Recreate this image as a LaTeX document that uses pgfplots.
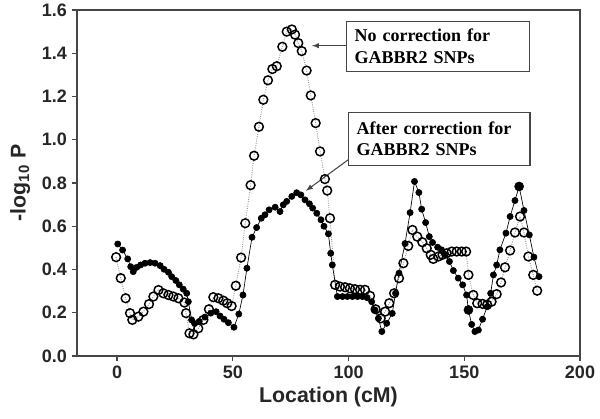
\documentclass[border=0pt]{standalone}
\usepackage{pgfplots}
\pgfplotsset{compat=1.18}
\usepackage{fontspec}
\setmainfont{Liberation Serif}
\setsansfont{Liberation Sans}
\definecolor{axgray}{RGB}{70,70,70}
\definecolor{dotgray}{RGB}{150,150,150}
\begin{document}
\begin{tikzpicture}
\path[use as bounding box] (-57.75pt,-46.5pt) rectangle (392.25pt,267pt);
\begin{axis}[
  scale only axis,
  width=377.25pt, height=259.5pt,
  at={(0,0)}, anchor=south west,
  xmin=-17.3, xmax=200,
  ymin=0, ymax=1.6,
  xtick={0,50,100,150,200},
  ytick={0,0.2,0.4,0.6,0.8,1.0,1.2,1.4,1.6},
  tick align=outside,
  tick pos=left,
  major tick length=4pt,
  axis line style={axgray, line width=1.1pt},
  every tick/.style={axgray, line width=1pt},
  /pgf/number format/assume math mode=true,
  yticklabel style={/pgf/number format/.cd, fixed, fixed zerofill, precision=1},
  ticklabel style={font=\sffamily\bfseries\fontsize{13.5}{14}\selectfont, text=black!85},
  xlabel={Location (cM)},
  ylabel={-log\textsubscript{10} P},
  label style={font=\sffamily\bfseries\fontsize{16}{18}\selectfont, text=black!85},
  xlabel style={anchor=center, at={(axis description cs:0.5,-0.118)}},
  ylabel style={anchor=center, rotate=0, at={(axis description cs:-0.113,0.5)}},
  clip=false,
]
% No correction (open circles, dotted)
\addplot[dotgray, densely dotted, line width=0.7pt, mark=o, mark size=3.3pt,
  mark options={solid, black, line width=1.1pt, fill=white}] coordinates {
(-0.4,0.457) (1.6,0.36) (3.7,0.267) (5.6,0.198) (6.6,0.167) (9.2,0.182)
(11.4,0.205) (13.8,0.24) (15.7,0.275) (17.9,0.305) (20.0,0.29) (22.2,0.282)
(24.3,0.275) (26.5,0.267) (29.1,0.247) (29.8,0.198) (31.3,0.105) (33.0,0.10)
(35.1,0.128) (37.3,0.167) (39.7,0.216) (41.6,0.272) (43.8,0.267) (45.9,0.256)
(47.6,0.244) (49.5,0.231) (51.3,0.325) (53.6,0.455) (55.4,0.614) (57.7,0.79)
(59.2,0.926) (61.3,1.06) (63.2,1.185) (65.2,1.275) (67.1,1.327) (69.0,1.34)
(71.4,1.43) (73.3,1.50) (75.5,1.51) (76.9,1.486) (78.3,1.447) (79.8,1.41)
(81.9,1.32) (83.7,1.205) (85.8,1.077) (87.7,0.946) (89.8,0.818) (90.8,0.765)
(92.0,0.637) (94.2,0.329) (96.3,0.321) (98.5,0.318) (100.6,0.313) (102.8,0.309)
(105.0,0.306) (107.1,0.306) (109.3,0.278) (111.7,0.216) (113.9,0.174) (115.8,0.205)
(117.6,0.244) (119.7,0.29) (121.8,0.36) (123.7,0.429) (125.8,0.509) (127.6,0.583)
(129.7,0.552) (131.9,0.526) (133.8,0.498) (135.5,0.468) (136.6,0.449) (138.8,0.46)
(140.6,0.468) (142.4,0.475) (144.6,0.483) (146.7,0.483) (148.9,0.483) (150.8,0.483)
(151.8,0.375) (153.9,0.282) (155.6,0.244) (157.9,0.241) (159.9,0.237) (161.8,0.251)
(164.0,0.286) (165.9,0.34) (167.6,0.41) (169.8,0.488) (171.9,0.571) (174.1,0.645)
(175.8,0.571) (177.7,0.46) (179.8,0.375) (181.5,0.302)
};
% After correction (filled circles, solid)
\addplot[black, line width=0.5pt, mark=*, mark size=2.3pt,
  mark options={solid, black}] coordinates {
(0.3,0.518) (2.4,0.49) (4.6,0.449) (5.9,0.413) (7.0,0.39) (8.5,0.41)
(10.2,0.421) (12.1,0.429) (14.3,0.432) (16.4,0.429) (18.6,0.418) (20.3,0.401)
(22.2,0.387) (23.6,0.367) (25.4,0.349) (26.9,0.329) (28.6,0.309) (30.1,0.29)
(30.8,0.251) (32.2,0.167) (33.5,0.15) (35.5,0.16) (38.0,0.18) (40.5,0.198)
(42.8,0.205) (44.5,0.185) (46.2,0.17) (48.1,0.154) (50.5,0.133) (52.6,0.194)
(54.4,0.282) (56.1,0.406) (58.3,0.549) (60.3,0.594) (62.3,0.637) (63.9,0.653)
(65.7,0.676) (68.3,0.688) (70.4,0.668) (71.8,0.699) (73.3,0.715) (75.5,0.738)
(77.6,0.755) (79.4,0.745) (81.2,0.722) (83.1,0.704) (84.5,0.684) (86.3,0.66)
(88.1,0.63) (89.4,0.60) (91.3,0.565) (92.3,0.475) (93.0,0.421) (95.2,0.275)
(97.4,0.275) (99.5,0.275) (101.7,0.275) (103.9,0.275) (106.0,0.275) (108.0,0.27)
(110.0,0.251) (111.4,0.213) (112.9,0.174) (114.4,0.113) (116.5,0.151) (118.9,0.197)
(120.3,0.29) (121.8,0.383) (124.4,0.52) (126.6,0.663) (128.5,0.807) (130.4,0.756)
(131.6,0.679) (133.3,0.617) (134.9,0.552) (136.3,0.525) (138.5,0.503) (140.2,0.491)
(141.7,0.468) (143.6,0.437) (145.3,0.395) (147.4,0.36) (149.3,0.329) (151.0,0.282)
(151.8,0.213) (153.2,0.146) (154.6,0.113) (156.1,0.12) (157.9,0.170) (159.9,0.228)
(161.4,0.29) (162.6,0.375) (164.0,0.421) (165.4,0.491) (168.0,0.568) (169.8,0.645)
(171.9,0.719) (173.7,0.784) (175.8,0.673) (178.1,0.56) (180.1,0.457) (182.3,0.367)
};
% a few larger filled markers
\addplot[only marks, mark=*, mark size=3.4pt, black] coordinates {
(151.8,0.213) (173.7,0.784)
};
% annotations
\node[draw=axgray, line width=0.9pt, fill=white, anchor=north west, align=left,
  text width=125pt, inner xsep=6pt, inner ysep=2pt, minimum height=37.5pt,
  font=\bfseries\fontsize{13.5}{16}\selectfont]
  (b1) at (axis cs:98.9,1.551) {No correction for\\GABBR2 SNPs};
\node[draw=axgray, line width=0.9pt, fill=white, anchor=north west, align=left,
  text width=124pt, inner xsep=6pt, inner ysep=2pt, minimum height=40pt,
  font=\bfseries\fontsize{13.5}{16}\selectfont]
  (b2) at (axis cs:99.8,1.13) {After correction for\\GABBR2 SNPs};
\draw[-latex, axgray, line width=0.8pt] (axis cs:98.9,1.435) -- (axis cs:84.2,1.435);
\draw[-latex, axgray, line width=0.8pt] (axis cs:99.8,0.907) -- (axis cs:81.6,0.764);
\end{axis}
\end{tikzpicture}
\end{document}
